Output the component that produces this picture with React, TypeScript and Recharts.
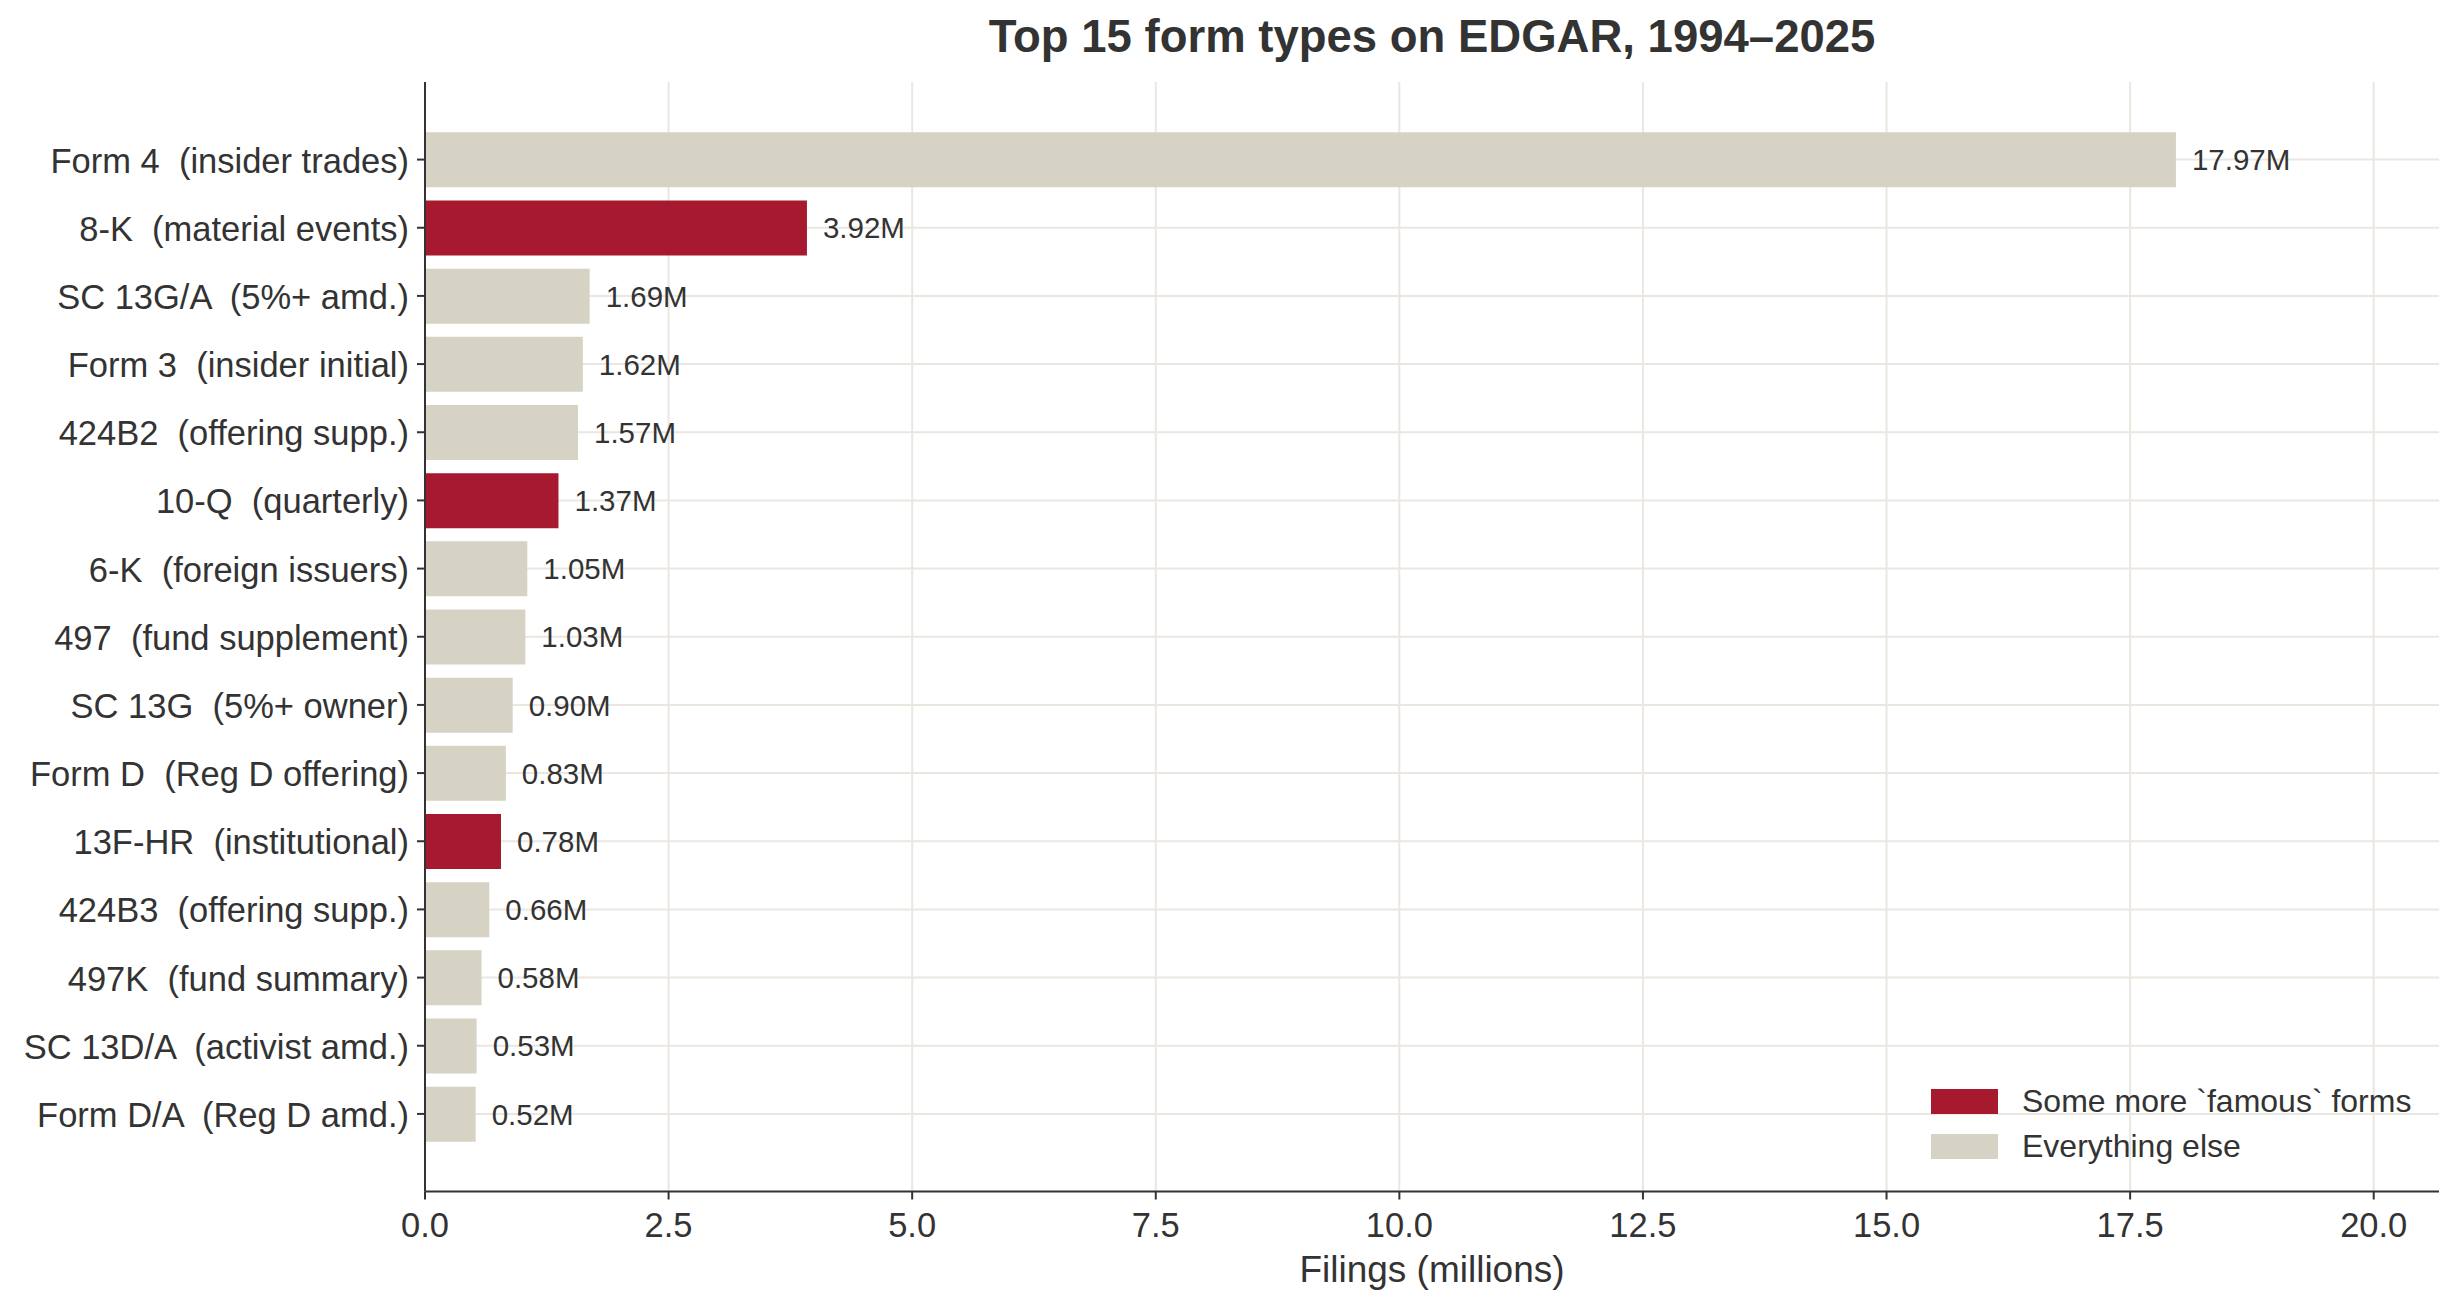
import React from 'react';
import { BarChart, Bar, XAxis, YAxis, CartesianGrid, Cell, LabelList, Label, Legend } from 'recharts';

const formLabels = [
  'Form 4  (insider trades)',
  '8-K  (material events)',
  'SC 13G/A  (5%+ amd.)',
  'Form 3  (insider initial)',
  '424B2  (offering supp.)',
  '10-Q  (quarterly)',
  '6-K  (foreign issuers)',
  '497  (fund supplement)',
  'SC 13G  (5%+ owner)',
  'Form D  (Reg D offering)',
  '13F-HR  (institutional)',
  '424B3  (offering supp.)',
  '497K  (fund summary)',
  'SC 13D/A  (activist amd.)',
  'Form D/A  (Reg D amd.)',
];

// filings, millions
const filings = [17.97, 3.92, 1.69, 1.62, 1.57, 1.37, 1.05, 1.03, 0.9, 0.83, 0.78, 0.66, 0.58, 0.53, 0.52];

const famous = [false, true, false, false, false, true, false, false, false, false, true, false, false, false, false];

const xTicks = [0, 2.5, 5, 7.5, 10, 12.5, 15, 17.5, 20];

const legendLabels = ['Some more `famous` forms', 'Everything else'];

const RED = '#A7192F';
const BEIGE = '#D6D3C5';
const INK = '#333333';
const GRID = '#EBE7E0';
const FONT = '"Liberation Sans", Arial, sans-serif';

const data = formLabels.map((label, i) => ({ label, value: filings[i], famous: famous[i] }));

const FormTick = (props: any) => {
  const { x, y, payload } = props;
  return (
    <text
      x={x}
      y={y}
      dy={13}
      textAnchor="end"
      fill={INK}
      fontSize={34.5}
      xmlSpace="preserve"
      style={{ whiteSpace: 'pre' }}
    >
      {payload.value}
    </text>
  );
};

const LegendBox = () => (
  <div style={{ fontFamily: FONT, color: INK }}>
    {legendLabels.map((name, i) => (
      <div key={name} style={{ display: 'flex', alignItems: 'center', height: 45 }}>
        <div style={{ width: 67, height: 25, background: i === 0 ? RED : BEIGE }} />
        <span style={{ marginLeft: 24, fontSize: 32, lineHeight: '45px', whiteSpace: 'pre' }}>{name}</span>
      </div>
    ))}
  </div>
);

const App = () => {
  return (
    <div style={{ position: 'absolute', left: 0, top: 0, width: 2457, height: 1308, background: '#fff', fontFamily: FONT }}>
      <svg width={2457} height={100} style={{ position: 'absolute', left: 0, top: 0 }}>
        <text x={1432} y={52} textAnchor="middle" fontSize={45.5} fontWeight="bold" fill={INK} fontFamily={FONT}>
          Top 15 form types on EDGAR, 1994–2025
        </text>
      </svg>
      <BarChart
        width={2457}
        height={1308}
        data={data}
        layout="vertical"
        margin={{ top: 82, right: 18, bottom: 0, left: 0 }}
        barCategoryGap="10%"
      >
        <CartesianGrid stroke={GRID} strokeWidth={2} syncWithTicks />
        <XAxis
          type="number"
          domain={[0, 20.67]}
          ticks={xTicks}
          tickFormatter={(v: number) => v.toFixed(1)}
          height={116.5}
          tick={{ fill: INK, fontSize: 34.5 }}
          tickSize={8}
          tickMargin={13}
          tickLine={{ stroke: INK, strokeWidth: 2 }}
          axisLine={{ stroke: INK, strokeWidth: 2 }}
        >
          <Label value="Filings (millions)" position="insideBottom" offset={26} fill={INK} fontSize={37} />
        </XAxis>
        <YAxis
          type="category"
          dataKey="label"
          width={425}
          padding={{ top: 43.5, bottom: 43.5 }}
          tick={<FormTick />}
          tickSize={8}
          tickMargin={8}
          tickLine={{ stroke: INK, strokeWidth: 2 }}
          axisLine={{ stroke: INK, strokeWidth: 2 }}
          interval={0}
        />
        <Legend
          layout="vertical"
          align="center"
          verticalAlign="middle"
          content={<LegendBox />}
          wrapperStyle={{ left: 1931, top: 1079, width: 520 }}
        />
        <Bar dataKey="value" isAnimationActive={false}>
          {data.map((d) => (
            <Cell key={d.label} fill={d.famous ? RED : BEIGE} />
          ))}
          <LabelList
            dataKey="value"
            position="right"
            offset={16}
            formatter={(v: any) => `${Number(v).toFixed(2)}M`}
            fill={INK}
            fontSize={29.5}
          />
        </Bar>
      </BarChart>
    </div>
  );
};

export default App;
